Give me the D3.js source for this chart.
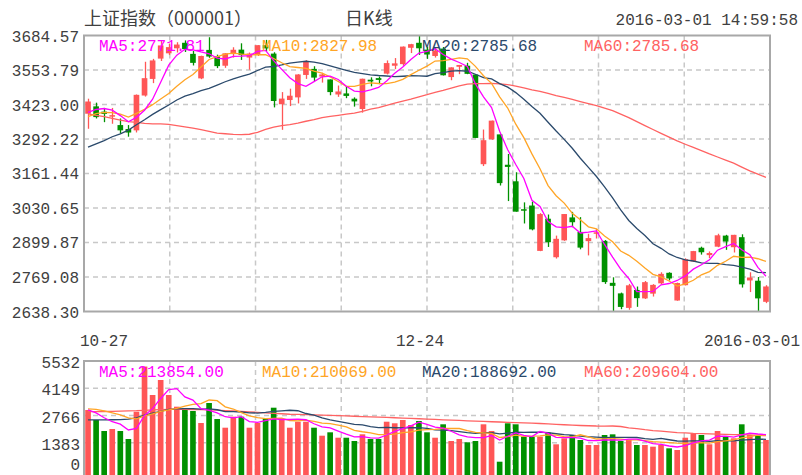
<!DOCTYPE html>
<html>
<head>
<meta charset="utf-8">
<script src="https://cdn.jsdelivr.net/npm/d3@7"></script>
<style>
	body { margin: 0; background: #fff; }
	text { font-family: 'Liberation Mono', 'DejaVu Sans Mono', monospace; font-size: 16px; }
</style>
</head>
<body>
<svg id="chart" width="802" height="475"></svg>
<script>
const dates = [
	'2015-10-27', '2015-10-28', '2015-10-29', '2015-10-30', '2015-11-02', '2015-11-03', '2015-11-04', '2015-11-05', '2015-11-06',
	'2015-11-09', '2015-11-10', '2015-11-11', '2015-11-12', '2015-11-13', '2015-11-16', '2015-11-17', '2015-11-18', '2015-11-19',
	'2015-11-20', '2015-11-23', '2015-11-24', '2015-11-25', '2015-11-26', '2015-11-27', '2015-11-30', '2015-12-01', '2015-12-02',
	'2015-12-03', '2015-12-04', '2015-12-07', '2015-12-08', '2015-12-09', '2015-12-10', '2015-12-11', '2015-12-14', '2015-12-15',
	'2015-12-16', '2015-12-17', '2015-12-18', '2015-12-21', '2015-12-22', '2015-12-23', '2015-12-24', '2015-12-25', '2015-12-28',
	'2015-12-29', '2015-12-30', '2015-12-31', '2016-01-04', '2016-01-05', '2016-01-06', '2016-01-07', '2016-01-08', '2016-01-11',
	'2016-01-12', '2016-01-13', '2016-01-14', '2016-01-15', '2016-01-18', '2016-01-19', '2016-01-20', '2016-01-21', '2016-01-22',
	'2016-01-25', '2016-01-26', '2016-01-27', '2016-01-28', '2016-01-29', '2016-02-01', '2016-02-02', '2016-02-03', '2016-02-04',
	'2016-02-05', '2016-02-15', '2016-02-16', '2016-02-17', '2016-02-18', '2016-02-19', '2016-02-22', '2016-02-23', '2016-02-24',
	'2016-02-25', '2016-02-26', '2016-02-29', '2016-03-01',
];

const opens = [
	3388, 3416, 3396, 3378, 3345, 3330, 3325, 3457, 3520, 3597, 3617, 3636, 3657, 3615, 3522, 3630, 3605, 3570, 3614, 3631,
	3601, 3614, 3648, 3616, 3424, 3440, 3450, 3535, 3558, 3529, 3518, 3461, 3465, 3445, 3406, 3517, 3523, 3540, 3570, 3576,
	3638, 3657, 3631, 3607, 3635, 3527, 3566, 3570, 3536.6, 3196.7, 3291.2, 3309.7, 3194.6, 3131.9, 3026, 3040, 2868, 2990, 2844, 2908,
	2995, 2940, 2905, 2933, 2906, 2747, 2707, 2652, 2720, 2688, 2706, 2745, 2785, 2680, 2738, 2828, 2880, 2852, 2884, 2926,
	2882, 2920, 2756, 2755, 2675,
];
const highs = [
	3445, 3430, 3410, 3410, 3370, 3345, 3461, 3585, 3596, 3665, 3654, 3659, 3666, 3626, 3608, 3678, 3612, 3618, 3640, 3655,
	3620, 3648, 3668, 3621, 3470, 3483, 3538, 3591, 3568, 3543, 3518, 3495, 3492, 3450, 3521, 3526, 3529, 3590, 3599, 3643,
	3653, 3684.57, 3642, 3638, 3641, 3564, 3573, 3581, 3538.7, 3328.1, 3362.0, 3309.7, 3235.5, 3166.2, 3052, 3055, 3011, 3006, 2926, 3008,
	3016, 2996, 2933, 2951, 2909, 2768, 2710, 2743, 2733, 2754, 2742, 2787, 2787, 2748, 2840, 2868, 2884, 2866, 2933, 2929,
	2929, 2931, 2787, 2769, 2738,
];
const lows = [
	3331, 3370, 3356, 3350, 3313, 3301, 3317, 3453, 3504, 3588, 3611, 3620, 3622, 3571, 3519, 3600, 3561, 3562, 3601, 3592,
	3555, 3607, 3625, 3412, 3327, 3417, 3427, 3520, 3512, 3506, 3458, 3452, 3447, 3415, 3392, 3492, 3500, 3537, 3557, 3570,
	3618, 3611, 3596, 3601, 3533, 3515, 3538, 3538, 3295.7, 3189.6, 3288.9, 3115.9, 3056.9, 3016.7, 2972, 2946, 2867, 2883, 2839, 2906,
	2958, 2874, 2851, 2915, 2743, 2638.30, 2647, 2645, 2656, 2686, 2695, 2741, 2756, 2679, 2737, 2826, 2854, 2841, 2882, 2872,
	2862, 2729, 2712, 2638.96, 2670,
];
const closes = [
	3434.34, 3375.20, 3387.32, 3382.56, 3325.08, 3316.70, 3459.64, 3522.82, 3590.03, 3646.88, 3640.49, 3650.25, 3632.90, 3580.84,
	3606.96, 3604.80, 3568.47, 3617.06, 3630.50, 3610.31, 3616.11, 3647.93, 3635.55, 3436.30, 3445.40, 3456.31, 3536.91, 3584.82,
	3524.99, 3536.93, 3470.07, 3472.44, 3455.50, 3434.58, 3520.67, 3510.35, 3516.19, 3580.00, 3578.96, 3642.47, 3651.77, 3636.09,
	3612.49, 3627.91, 3533.78, 3563.74, 3572.88, 3539.18, 3296.26, 3287.71, 3361.84, 3125.00, 3186.41, 3016.70, 3022.86, 2949.60,
	3007.65, 2900.97, 2913.84, 3007.74, 2976.69, 2880.48, 2916.56, 2938.51, 2749.79, 2735.56, 2655.66, 2737.60, 2688.85, 2749.57,
	2739.25, 2781.02, 2763.49, 2746.20, 2836.57, 2867.34, 2862.89, 2860.02, 2927.18, 2903.33, 2928.90, 2741.25, 2767.21, 2687.98,
	2733.17,
];
const volumes = [
	3045, 2538, 1979, 2081, 1979, 1573, 2959, 5250, 3806, 4568, 3806, 3213, 3147, 2994, 2385, 3400, 2588, 2147, 2705, 2705,
	2147, 2385, 2588, 3162, 2538, 2147, 2451, 2451, 2147, 1741, 1913, 1639, 1639, 1472, 1812, 1573, 1573, 2451, 2370, 2538,
	2284, 2487, 1913, 1639, 2319, 1472, 1573, 1406, 1472, 2319, 1979, 421, 2370, 2319, 1692, 1692, 1692, 1900, 1304, 1608,
	1776, 1523, 1269, 1269, 1776, 1810, 1472, 1523, 1269, 1269, 1184, 1269, 1100, 1015, 1639, 1861, 1776, 1304, 1979, 1692,
	1608, 2319, 1776, 1741, 1523,
];

// price moving averages
const ma5 = [
	3393.2, 3404.1, 3407.8, 3401.8, 3380.9, 3357.4, 3374.3, 3401.4, 3442.9, 3507.2, 3572.0, 3610.1, 3632.1, 3630.3, 3622.3,
	3615.2, 3598.8, 3595.6, 3605.6, 3606.2, 3608.5, 3624.4, 3628.1, 3589.2, 3556.3, 3524.3, 3502.1, 3491.9, 3509.7, 3528.0,
	3530.7, 3517.9, 3492.0, 3473.9, 3470.7, 3478.7, 3487.5, 3512.4, 3541.2, 3565.6, 3593.9, 3617.9, 3624.4, 3634.1, 3612.4,
	3594.8, 3582.2, 3567.5, 3501.2, 3452.0, 3411.6, 3322.0, 3251.4, 3195.5, 3142.6, 3060.1, 3036.6, 2979.6, 2959.0, 2956.0,
	2961.4, 2935.9, 2939.1, 2944.0, 2892.4, 2844.2, 2799.2, 2763.4, 2713.5, 2713.4, 2714.2, 2739.3, 2744.4, 2755.9, 2773.3,
	2798.9, 2815.3, 2834.6, 2870.8, 2884.2, 2896.5, 2872.1, 2853.6, 2805.7, 2771.8,
];
const ma10 = [
	3377.0, 3388.2, 3393.2, 3392.3, 3386.1, 3375.3, 3389.2, 3404.6, 3422.3, 3444.1, 3464.7, 3492.2, 3516.7, 3536.6, 3564.8,
	3593.6, 3604.4, 3613.9, 3617.9, 3614.3, 3611.8, 3611.6, 3611.9, 3597.4, 3581.2, 3566.4, 3563.2, 3560.0, 3549.5, 3542.1,
	3527.5, 3510.0, 3492.0, 3491.8, 3499.3, 3504.7, 3502.7, 3502.2, 3507.6, 3518.1, 3536.3, 3552.7, 3568.4, 3587.7, 3589.0,
	3594.3, 3600.0, 3595.9, 3567.7, 3532.2, 3503.2, 3452.1, 3409.5, 3348.4, 3297.3, 3235.8, 3179.3, 3115.5, 3077.3, 3049.3,
	3010.7, 2986.3, 2959.3, 2951.5, 2924.2, 2902.8, 2867.6, 2851.2, 2828.7, 2802.9, 2779.2, 2769.2, 2753.9, 2734.7, 2743.4,
	2756.6, 2777.3, 2789.5, 2813.4, 2828.7, 2847.7, 2843.7, 2844.1, 2838.3, 2828.0,
];
const ma20 = [
	3261.1, 3274.1, 3286.3, 3300.8, 3312.0, 3325.9, 3346.2, 3365.2, 3385.5, 3403.5, 3420.9, 3440.2, 3455.0, 3464.5, 3475.5,
	3484.5, 3496.8, 3509.3, 3520.1, 3529.2, 3538.3, 3551.9, 3564.3, 3567.0, 3573.0, 3580.0, 3583.8, 3587.0, 3583.7, 3578.2,
	3569.7, 3560.8, 3552.0, 3544.6, 3540.3, 3535.6, 3533.0, 3531.1, 3528.6, 3530.1, 3531.9, 3531.4, 3530.2, 3539.8, 3544.2,
	3549.5, 3551.4, 3549.1, 3537.7, 3525.2, 3519.8, 3502.4, 3489.0, 3468.1, 3443.2, 3415.1, 3389.7, 3355.7, 3322.5, 3290.8,
	3257.0, 3219.2, 3184.4, 3150.0, 3110.8, 3069.3, 3023.5, 2983.4, 2953.0, 2926.1, 2895.0, 2877.8, 2856.6, 2843.1, 2833.8,
	2829.7, 2822.5, 2820.4, 2821.1, 2815.8, 2813.5, 2806.5, 2799.0, 2786.5, 2785.7,
];
const ma60 = [
	3387.5, 3381.7, 3377.1, 3370.3, 3364.0, 3358.2, 3355.5, 3351.6, 3349.8, 3349.6, 3347.8, 3343.2, 3338.3, 3333.2, 3327.4,
	3321.4, 3314.3, 3312.1, 3309.4, 3308.5, 3310.3, 3317.6, 3328.8, 3337.2, 3343.3, 3347.0, 3352.6, 3359.5, 3365.6, 3373.2,
	3378.2, 3382.0, 3386.3, 3390.3, 3397.0, 3405.4, 3411.5, 3419.7, 3427.8, 3435.9, 3443.6, 3452.3, 3460.1, 3469.1, 3476.3,
	3485.0, 3493.7, 3500.3, 3502.2, 3502.2, 3503.3, 3501.0, 3498.5, 3492.3, 3486.2, 3478.3, 3473.1, 3465.3, 3457.0, 3450.0,
	3442.4, 3434.1, 3426.3, 3418.9, 3409.3, 3399.6, 3386.2, 3373.1, 3358.1, 3343.1, 3328.1, 3313.6, 3299.1, 3285.2, 3272.4,
	3260.1, 3248.3, 3235.7, 3224.0, 3212.2, 3200.7, 3185.6, 3171.2, 3158.7, 3146.8,
];

// volume moving averages
const volMa5 = [
	3050, 2900, 2650, 2450, 2324, 2030, 2114, 2769, 3114, 3632, 4078, 4129, 3708, 3546, 3109, 3028, 2903, 2703, 2645, 2709,
	2458, 2418, 2506, 2597, 2564, 2564, 2577, 2550, 2347, 2187, 2141, 1978, 1816, 1681, 1695, 1627, 1614, 1776, 1956, 2101,
	2243, 2426, 2318, 2172, 2128, 1966, 1783, 1682, 1648, 1648, 1750, 1519, 1712, 1882, 1756, 1699, 1953, 1859, 1656, 1639,
	1656, 1622, 1496, 1489, 1523, 1529, 1519, 1570, 1570, 1469, 1343, 1303, 1218, 1167, 1241, 1377, 1478, 1519, 1712, 1722,
	1672, 1780, 1875, 1827, 1793,
];
const volMa10 = [
	3100, 3080, 3000, 2900, 2800, 2650, 2600, 2750, 2850, 2978, 3054, 3122, 3238, 3330, 3370, 3553, 3516, 3205, 3095, 2909,
	2743, 2660, 2604, 2621, 2637, 2511, 2498, 2528, 2472, 2376, 2352, 2278, 2183, 2014, 1941, 1884, 1796, 1796, 1818, 1898,
	1935, 2020, 2047, 2064, 2115, 2105, 2105, 2000, 1910, 1888, 1858, 1651, 1697, 1765, 1702, 1724, 1736, 1786, 1769, 1698,
	1677, 1788, 1678, 1573, 1581, 1593, 1571, 1533, 1530, 1496, 1436, 1411, 1394, 1369, 1355, 1360, 1391, 1369, 1440, 1482,
	1524, 1629, 1697, 1770, 1758,
];
const volMa20 = [
	2540, 2540, 2540, 2550, 2560, 2580, 2650, 2780, 2880, 2980, 3077, 3101, 3119, 3115, 3085, 3102, 3058, 2964, 2959, 2944,
	2899, 2891, 2921, 2976, 3004, 3032, 3007, 2867, 2784, 2643, 2548, 2469, 2394, 2318, 2289, 2198, 2147, 2162, 2145, 2137,
	2144, 2149, 2115, 2039, 2028, 1995, 1951, 1898, 1864, 1893, 1897, 1836, 1872, 1915, 1909, 1915, 1921, 1893, 1840, 1793,
	1768, 1720, 1688, 1669, 1642, 1659, 1654, 1660, 1650, 1597, 1557, 1600, 1536, 1471, 1468, 1477, 1481, 1451, 1485, 1489,
	1480, 1520, 1546, 1570, 1557,
];
const volMa60 = [
	2960, 2965, 2970, 2975, 2985, 3000, 3010, 3030, 3050, 3065, 3080, 3078, 3074, 3068, 3060, 3050, 3034, 3016, 2996, 2975,
	2950, 2926, 2902, 2878, 2854, 2830, 2818, 2806, 2794, 2782, 2770, 2756, 2742, 2728, 2714, 2700, 2684, 2668, 2652, 2636,
	2620, 2602, 2584, 2566, 2548, 2530, 2514, 2498, 2482, 2466, 2450, 2436, 2422, 2408, 2394, 2380, 2360, 2340, 2320, 2296,
	2275, 2258, 2246, 2232, 2229, 2233, 2208, 2141, 2099, 2044, 2000, 1968, 1934, 1901, 1889, 1863, 1849, 1835, 1823, 1806,
	1797, 1796, 1783, 1759, 1742,
];

const priceTicks = [ 2638.30, 2769.08, 2899.87, 3030.65, 3161.44, 3292.22, 3423.00, 3553.79, 3684.57 ];
const volumeTicks = [ 0, 1383, 2766, 4149, 5532 ];
const dateTicks = [ '2015-10-27', '2015-12-24', '2016-03-01' ];
const dateTickText = [ '10-27', '12-24', '2016-03-01' ];

const priceLegend = [ 'MA5:2771.81', 'MA10:2827.98', 'MA20:2785.68', 'MA60:2785.68' ];
const volumeLegend = [ 'MA5:213854.00', 'MA10:210069.00', 'MA20:188692.00', 'MA60:209604.00' ];

const colors = {
	up: '#ff5656',
	down: '#009100',
	ma5: '#ff00ff',
	ma10: '#ffa526',
	ma20: '#2b4a6c',
	ma60: '#ff6262',
	grid: '#c8c8c8',
	frame: '#a8a8a8',
	text: '#404040',
};

const svg = d3.select( '#chart' );
const width = 802;
const height = 475;

// panel boxes
const price = { left: 84, right: 770, top: 35.5, bottom: 311.5 };
const vol = { top: 361, zero: 470 };

const x = d3.scaleBand()
	.domain( d3.range( dates.length ) )
	.range( [ price.left, price.right ] )
	.paddingInner( 0.3 )
	.paddingOuter( 0.15 );
const cx = ( i ) => x( i ) + x.bandwidth() / 2;

const y = d3.scaleLinear()
	.domain( [ priceTicks[ 0 ], priceTicks[ priceTicks.length - 1 ] ] )
	.range( [ price.bottom, price.top ] );

const yVol = d3.scaleLinear()
	.domain( [ 0, volumeTicks[ volumeTicks.length - 1 ] ] )
	.range( [ vol.zero, vol.top ] );

// vertical grid divides the width in 8
const xGrid = d3.scaleLinear().domain( [ 0, 8 ] ).range( [ price.left, price.right ] );

function dashed( g, x1, y1, x2, y2 ) {
	g.append( 'line' )
		.attr( 'x1', x1 ).attr( 'y1', y1 )
		.attr( 'x2', x2 ).attr( 'y2', y2 )
		.attr( 'stroke', colors.grid )
		.attr( 'stroke-width', 1.5 )
		.attr( 'stroke-dasharray', '5,4' );
}

const grid = svg.append( 'g' );
d3.range( 1, 8 ).forEach( ( k ) => {
	dashed( grid, xGrid( k ), price.top, xGrid( k ), price.bottom );
	dashed( grid, xGrid( k ), vol.top, xGrid( k ), height );
} );
priceTicks.slice( 1, -1 ).forEach( ( t ) => dashed( grid, price.left, y( t ), price.right, y( t ) ) );
volumeTicks.slice( 1, -1 ).forEach( ( t ) => dashed( grid, price.left, yVol( t ), price.right, yVol( t ) ) );

// candles
const isUp = ( i ) => closes[ i ] >= opens[ i ];
const candles = svg.append( 'g' ).selectAll( 'g' )
	.data( d3.range( dates.length ) )
	.enter()
	.append( 'g' );

candles.append( 'line' )
	.attr( 'x1', ( i ) => Math.round( cx( i ) ) + 0.5 )
	.attr( 'x2', ( i ) => Math.round( cx( i ) ) + 0.5 )
	.attr( 'y1', ( i ) => y( highs[ i ] ) )
	.attr( 'y2', ( i ) => y( lows[ i ] ) )
	.attr( 'stroke', ( i ) => isUp( i ) ? colors.up : colors.down )
	.attr( 'stroke-width', 1.3 );

candles.append( 'rect' )
	.attr( 'x', ( i ) => x( i ) )
	.attr( 'width', x.bandwidth() )
	.attr( 'y', ( i ) => y( Math.max( opens[ i ], closes[ i ] ) ) )
	.attr( 'height', ( i ) => Math.max( 1.5, Math.abs( y( opens[ i ] ) - y( closes[ i ] ) ) ) )
	.attr( 'fill', ( i ) => isUp( i ) ? colors.up : colors.down );

// volume bars, the zero line sits below the picture edge
svg.append( 'g' ).selectAll( 'rect' )
	.data( volumes )
	.enter()
	.append( 'rect' )
	.attr( 'x', ( d, i ) => x( i ) )
	.attr( 'width', x.bandwidth() )
	.attr( 'y', ( d ) => yVol( d ) )
	.attr( 'height', ( d ) => height - yVol( d ) )
	.attr( 'fill', ( d, i ) => isUp( i ) ? colors.up : colors.down );

// moving average lines
const priceLine = d3.line().x( ( d, i ) => cx( i ) ).y( ( d ) => y( d ) );
const volLine = d3.line().x( ( d, i ) => cx( i ) ).y( ( d ) => yVol( d ) );

[ [ ma60, colors.ma60 ], [ ma20, colors.ma20 ], [ ma10, colors.ma10 ], [ ma5, colors.ma5 ] ].forEach( ( [ d, c ] ) => {
	svg.append( 'path' ).datum( d )
		.attr( 'd', priceLine )
		.attr( 'fill', 'none' )
		.attr( 'stroke', c )
		.attr( 'stroke-width', 1.3 );
} );
[ [ volMa60, colors.ma60 ], [ volMa20, colors.ma20 ], [ volMa10, colors.ma10 ], [ volMa5, colors.ma5 ] ].forEach( ( [ d, c ] ) => {
	svg.append( 'path' ).datum( d )
		.attr( 'd', volLine )
		.attr( 'fill', 'none' )
		.attr( 'stroke', c )
		.attr( 'stroke-width', 1.3 );
} );

// frames
svg.append( 'rect' )
	.attr( 'x', price.left ).attr( 'y', price.top )
	.attr( 'width', price.right - price.left ).attr( 'height', price.bottom - price.top )
	.attr( 'fill', 'none' ).attr( 'stroke', colors.frame ).attr( 'stroke-width', 2 );
svg.append( 'rect' )
	.attr( 'x', price.left ).attr( 'y', vol.top )
	.attr( 'width', price.right - price.left ).attr( 'height', height - vol.top + 10 )
	.attr( 'fill', 'none' ).attr( 'stroke', colors.frame ).attr( 'stroke-width', 2 );

// axis labels
svg.append( 'g' ).selectAll( 'text' )
	.data( priceTicks )
	.enter()
	.append( 'text' )
	.attr( 'x', 79 )
	.attr( 'y', ( d ) => y( d ) + 6 )
	.attr( 'text-anchor', 'end' )
	.attr( 'fill', colors.text )
	.text( ( d ) => d.toFixed( 2 ) );

svg.append( 'g' ).selectAll( 'text' )
	.data( volumeTicks )
	.enter()
	.append( 'text' )
	.attr( 'x', 80 )
	.attr( 'y', ( d ) => Math.min( yVol( d ) + 7, 470 ) )
	.attr( 'text-anchor', 'end' )
	.attr( 'fill', colors.text )
	.text( ( d ) => d );

dateTicks.forEach( ( dt, k ) => {
	const i = dates.indexOf( dt );
	const anchor = k === 0 ? 'start' : ( k === dateTicks.length - 1 ? 'end' : 'middle' );
	const tx = k === 0 ? price.left - 4 : ( k === dateTicks.length - 1 ? width - 2 : cx( i ) - 7 );
	svg.append( 'text' )
		.attr( 'x', tx )
		.attr( 'y', 346 )
		.attr( 'text-anchor', anchor )
		.attr( 'fill', colors.text )
		.text( dateTickText[ k ] );
} );

// legends
const legendX = [ 99, 262, 422, 584 ];
const legendColors = [ colors.ma5, colors.ma10, colors.ma20, colors.ma60 ];
priceLegend.forEach( ( t, k ) => {
	svg.append( 'text' ).attr( 'x', legendX[ k ] ).attr( 'y', 51 ).attr( 'fill', legendColors[ k ] ).text( t );
} );
volumeLegend.forEach( ( t, k ) => {
	svg.append( 'text' ).attr( 'x', legendX[ k ] ).attr( 'y', 377 ).attr( 'fill', legendColors[ k ] ).text( t );
} );

// header
svg.append( 'text' )
	.attr( 'x', 84 ).attr( 'y', 25 )
	.attr( 'fill', colors.text )
	.style( 'font-family', '"Noto Sans CJK SC", sans-serif' )
	.style( 'font-size', '18px' )
	.text( '上证指数（000001）' );
svg.append( 'text' )
	.attr( 'x', 345 ).attr( 'y', 25 )
	.attr( 'fill', colors.text )
	.style( 'font-family', '"Noto Sans CJK SC", sans-serif' )
	.style( 'font-size', '18px' )
	.text( '日K线' );
svg.append( 'text' )
	.attr( 'x', 798 ).attr( 'y', 25 )
	.attr( 'text-anchor', 'end' )
	.attr( 'fill', colors.text )
	.text( '2016-03-01 14:59:58' );
</script>
</body>
</html>
